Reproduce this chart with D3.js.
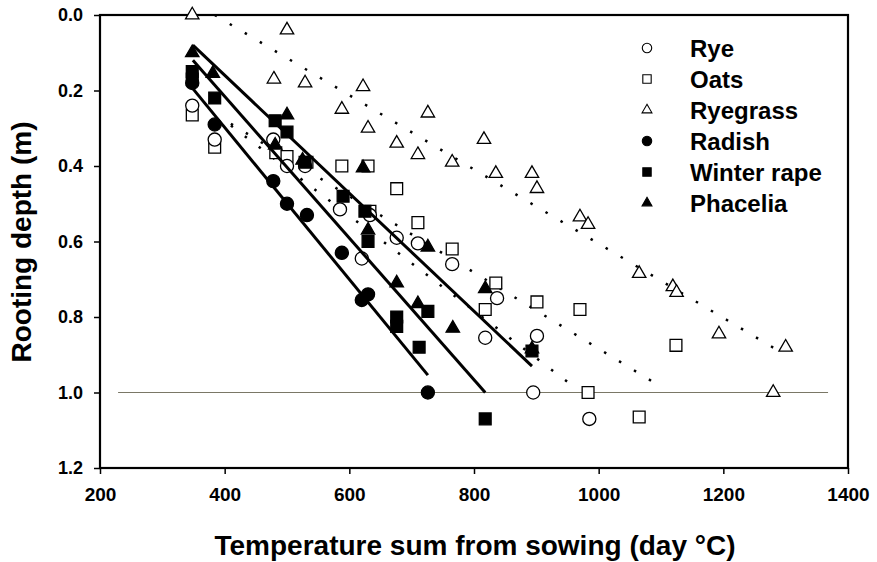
<!DOCTYPE html>
<html>
<head>
<meta charset="utf-8">
<script src="https://cdn.jsdelivr.net/npm/d3@7"></script>
<style>
body { margin: 0; background: #fff; }
text { font-family: "Liberation Sans", Arial, sans-serif; font-weight: bold; fill: #000; }
</style>
</head>
<body>
<div id="chart"></div>
<script>
// data
var ryeX = [348, 384, 478, 500, 529, 585, 633, 620, 676, 710, 765, 837, 818, 901, 895, 985];
var ryeY = [0.24, 0.33, 0.33, 0.40, 0.40, 0.515, 0.53, 0.645, 0.59, 0.605, 0.66, 0.75, 0.855, 0.85, 1.00, 1.07];

var oatsX = [348, 384, 482, 500, 532, 588, 630, 633, 676, 710, 765, 835, 818, 901, 970, 983, 1124, 1065];
var oatsY = [0.265, 0.35, 0.365, 0.375, 0.39, 0.40, 0.40, 0.52, 0.46, 0.55, 0.62, 0.71, 0.78, 0.76, 0.78, 1.00, 0.875, 1.065];

var ryegrassX = [348, 500, 479, 529, 622, 588, 726, 630, 816, 676, 710, 765, 835, 893, 901, 970, 983, 1065, 1119, 1125, 1193, 1300, 1280];
var ryegrassY = [0.00, 0.04, 0.17, 0.18, 0.19, 0.25, 0.26, 0.30, 0.33, 0.34, 0.37, 0.39, 0.42, 0.42, 0.46, 0.535, 0.555, 0.685, 0.72, 0.735, 0.845, 0.88, 1.00];

var radishX = [348, 384, 478, 500, 532, 588, 620, 630, 726];
var radishY = [0.18, 0.29, 0.44, 0.50, 0.53, 0.63, 0.755, 0.74, 1.00];

var rapeX = [348, 348, 384, 481, 500, 529, 590, 625, 630, 676, 676, 726, 712, 893, 818];
var rapeY = [0.15, 0.17, 0.22, 0.28, 0.31, 0.39, 0.48, 0.52, 0.60, 0.80, 0.825, 0.785, 0.88, 0.89, 1.07];

var phaceliaX = [348, 381, 500, 481, 525, 622, 630, 676, 710, 726, 766, 818, 893];
var phaceliaY = [0.10, 0.155, 0.265, 0.345, 0.385, 0.405, 0.57, 0.71, 0.765, 0.615, 0.83, 0.725, 0.885];

// fitted lines [x0, y0, x1, y1]
var ryeLine = [410, 0.293, 954, 0.977];
var oatsLine = [410, 0.288, 1100, 0.985];
var ryegrassLine = [384, 0.0, 1281, 0.882];
var radishLine = [348, 0.193, 726, 0.954];
var rapeLine = [349, 0.12, 818, 1.0];
var phaceliaLine = [349, 0.08, 893, 0.93];
var refLine = [229, 1.0, 1368, 1.0];

var xTicks = [200, 400, 600, 800, 1000, 1200, 1400];
var yTicks = [0, 0.2, 0.4, 0.6, 0.8, 1.0, 1.2];

var legendNames = ["Rye", "Oats", "Ryegrass", "Radish", "Winter rape", "Phacelia"];

var svgWidth = 877;
var svgHeight = 562;
var margin = { top: 15, right: 29, bottom: 94, left: 100 };
var width = svgWidth - margin.left - margin.right;
var height = svgHeight - margin.top - margin.bottom;

var svg = d3.select("#chart")
    .append("svg")
    .attr("width", svgWidth)
    .attr("height", svgHeight);

var chartGroup = svg.append("g")
    .attr("transform", `translate(${margin.left}, ${margin.top})`);

var xScale = d3.scaleLinear().domain([200, 1400]).range([0, width]);
var yScale = d3.scaleLinear().domain([0, 1.2]).range([0, height]);

// axes
var xAxis = d3.axisBottom(xScale).tickValues(xTicks).tickSize(6).tickPadding(14)
    .tickSizeOuter(0).tickFormat(d3.format("d"));
var yAxis = d3.axisLeft(yScale).tickValues(yTicks).tickSize(6).tickPadding(11)
    .tickSizeOuter(0).tickFormat(d3.format(".1f"));

var gx = chartGroup.append("g")
    .attr("transform", `translate(0, ${height})`)
    .call(xAxis);
gx.selectAll("text").style("font-size", "19px");

var gy = chartGroup.append("g").call(yAxis);
gy.selectAll("text").style("font-size", "18px");

svg.selectAll(".tick line").attr("stroke", "#000").attr("stroke-width", 1.5);
svg.selectAll(".domain").remove();

// frame
chartGroup.append("rect")
    .attr("x", 0).attr("y", 0)
    .attr("width", width).attr("height", height)
    .attr("fill", "none")
    .attr("stroke", "#000")
    .attr("stroke-width", 2.2);

function drawLine(seg, opts) {
    var p = chartGroup.append("line")
        .attr("x1", xScale(seg[0])).attr("y1", yScale(seg[1]))
        .attr("x2", xScale(seg[2])).attr("y2", yScale(seg[3]))
        .attr("stroke", opts.color || "#000")
        .attr("stroke-width", opts.w);
    if (opts.dash) p.attr("stroke-dasharray", opts.dash);
}

// reference depth line
drawLine(refLine, { w: 1.2, color: "#7a7766" });

// dotted fits
drawLine(ryegrassLine, { w: 2.5, dash: "2.5 15" });
drawLine(oatsLine, { w: 2.5, dash: "2.5 15" });
drawLine(ryeLine, { w: 2.5, dash: "2.5 15" });

var series = [
    { name: "Oats", xs: oatsX, ys: oatsY, shape: d3.symbolSquare, size: 140, fill: "#fff" },
    { name: "Rye", xs: ryeX, ys: ryeY, shape: d3.symbolCircle, size: 135, fill: "#fff" },
    { name: "Ryegrass", xs: ryegrassX, ys: ryegrassY, shape: d3.symbolTriangle, size: 78, fill: "#fff" },
    { name: "Radish", xs: radishX, ys: radishY, shape: d3.symbolCircle, size: 135, fill: "#000" },
    { name: "Winter rape", xs: rapeX, ys: rapeY, shape: d3.symbolSquare, size: 140, fill: "#000" },
    { name: "Phacelia", xs: phaceliaX, ys: phaceliaY, shape: d3.symbolTriangle, size: 78, fill: "#000" }
];

function drawPoints(s) {
    var pts = s.xs.map(function(x, i) { return { x: x, y: s.ys[i] }; });
    chartGroup.append("g")
        .selectAll("path")
        .data(pts)
        .enter()
        .append("path")
        .attr("d", d3.symbol().type(s.shape).size(s.size))
        .attr("transform", function(d) {
            return `translate(${xScale(d.x)}, ${yScale(d.y)})`;
        })
        .attr("fill", s.fill)
        .attr("stroke", "#000")
        .attr("stroke-width", 1.3);
}

// open symbols, then the solid fits, then filled symbols
series.slice(0, 3).forEach(drawPoints);

drawLine(radishLine, { w: 3 });
drawLine(rapeLine, { w: 3 });
drawLine(phaceliaLine, { w: 3 });

series.slice(3).forEach(drawPoints);

// legend
var legendOrder = legendNames.map(function(n) {
    return series.filter(function(s) { return s.name === n; })[0];
});

var legend = svg.append("g").attr("transform", "translate(647, 48)");
legend.selectAll("path")
    .data(legendOrder)
    .enter()
    .append("path")
    .attr("d", function(s) { return d3.symbol().type(s.shape).size(s.shape === d3.symbolTriangle ? 42 : 70)(); })
    .attr("transform", function(s, i) { return `translate(0, ${i * 31})`; })
    .attr("fill", function(s) { return s.fill; })
    .attr("stroke", "#000")
    .attr("stroke-width", 1.1);

legend.selectAll("text")
    .data(legendOrder)
    .enter()
    .append("text")
    .attr("x", 43)
    .attr("y", function(s, i) { return i * 31; })
    .attr("dy", "0.36em")
    .style("font-size", "24px")
    .text(function(s) { return s.name; });

// axis titles
svg.append("text")
    .attr("transform", "rotate(-90)")
    .attr("x", -242)
    .attr("y", 31)
    .attr("text-anchor", "middle")
    .style("font-size", "28px")
    .text("Rooting depth (m)");

svg.append("text")
    .attr("x", 475)
    .attr("y", 555)
    .attr("text-anchor", "middle")
    .style("font-size", "28px")
    .text("Temperature sum from sowing (day °C)");
</script>
</body>
</html>
